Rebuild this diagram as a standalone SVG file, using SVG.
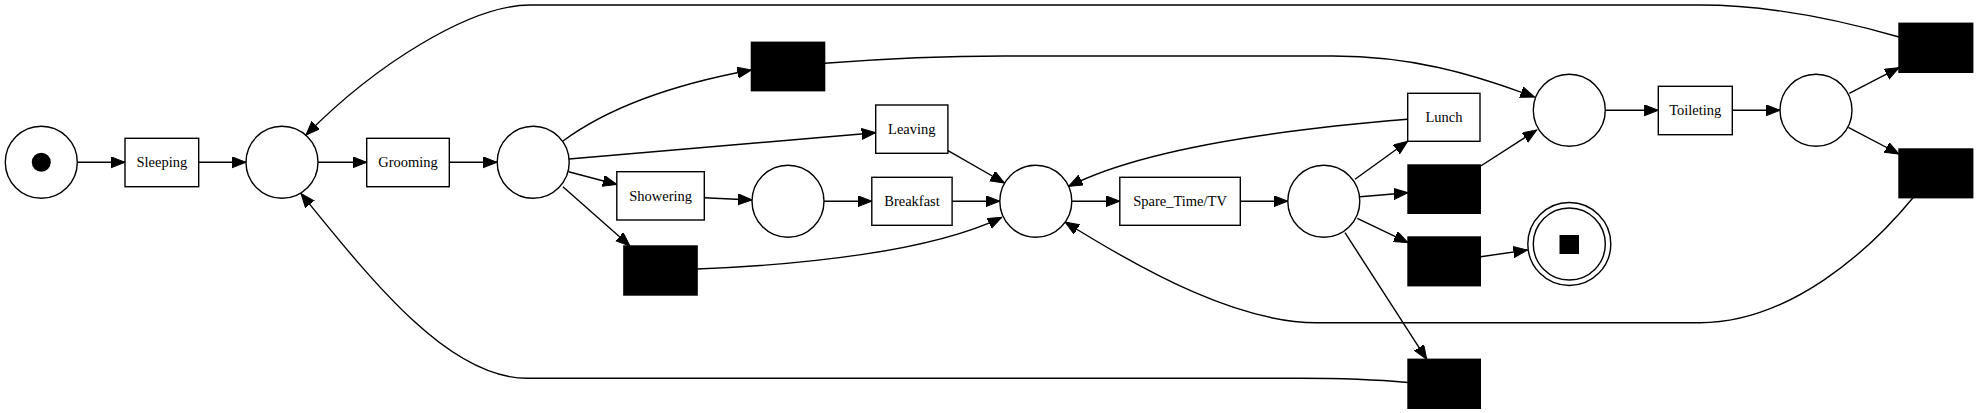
<svg xmlns="http://www.w3.org/2000/svg" width="1977" height="413" viewBox="0 0 1977 413">
<style>
.pl{fill:#fff;stroke:#000;stroke-width:1.4}
.tr{fill:#fff;stroke:#000;stroke-width:1.4}
.tau{fill:#000;stroke:#000;stroke-width:1.4}
.e{fill:none;stroke:#000;stroke-width:1.4;marker-end:url(#ah)}
text{font-family:"Liberation Serif","Times New Roman",serif;font-size:14.5px;text-anchor:middle;fill:#000}
</style>
<defs>
<marker id="ah" markerUnits="userSpaceOnUse" markerWidth="16" markerHeight="12" refX="14" refY="5.5" orient="auto">
<path d="M0,0 L14,5.5 L0,11 z" fill="#000" stroke="#000" stroke-width="1"/>
</marker>
</defs>
<rect width="1977" height="413" fill="#fff"/>
<g id="connectors">
<path class="e" d="M77.3,162.3 L125,162.3"/>
<path class="e" d="M198.7,162.3 L246,162.3"/>
<path class="e" d="M318,162.3 L366.7,162.3"/>
<path class="e" d="M449.3,162.3 L497,162.3"/>
<path class="e" d="M563,141 C605,110 670,85 751.4,70"/>
<path class="e" d="M569,159 L875.7,132.7"/>
<path class="e" d="M568.6,171.7 L616.8,184.5"/>
<path class="e" d="M562.9,186.7 L630,246"/>
<path class="e" d="M704.3,197.7 L752,200"/>
<path class="e" d="M824,201.2 L871.8,201.2"/>
<path class="e" d="M952.1,201.2 L999.8,201.2"/>
<path class="e" d="M948,150.7 L1004.5,183"/>
<path class="e" d="M697,269 C800,265 930,252 1001.7,217.3"/>
<path class="e" d="M1071.8,201.2 L1119.8,201.2"/>
<path class="e" d="M1407.7,119.3 C1300,128 1150,145 1068.5,186.5"/>
<path class="e" d="M1240.3,201.2 L1287.8,201.2"/>
<path class="e" d="M1355,179.3 L1407.7,141.3"/>
<path class="e" d="M1360,196.7 L1408,192.7"/>
<path class="e" d="M1357.3,218.3 L1408,242.7"/>
<path class="e" d="M1345,232.7 L1426.7,359.3"/>
<path class="e" d="M1480.7,166 L1536.7,130"/>
<path class="e" d="M1480.7,256.7 L1527.5,250"/>
<path class="e" d="M824.6,63.3 C880,59 950,56 1004,56 L1333,56 C1410,56 1470,73 1534.5,97"/>
<path class="e" d="M1605.3,110.3 L1658.3,110.3"/>
<path class="e" d="M1732.3,110.3 L1780,110.3"/>
<path class="e" d="M1849.3,93.3 L1899,67.7"/>
<path class="e" d="M1848.3,127.3 L1899,154"/>
<path class="e" d="M1899,37 C1840,20 1770,5 1700,5 L530,5 C470,5 375,65 306,135"/>
<path class="e" d="M1913,197.7 C1870,250 1790,322.7 1700,322.7 L1317,322.7 C1240,322.7 1150,275 1065,222"/>
<path class="e" d="M1408,382.5 C1380,380 1340,378.3 1300,378.3 L527,378.3 C450,378.3 375,285 301,193.5"/>
</g>
<g id="p_start"><circle class="pl" cx="41.3" cy="162.3" r="36"/><circle cx="41.3" cy="162.3" r="9.5" fill="#000"/></g>
<g id="p1"><circle class="pl" cx="282" cy="162.3" r="36"/></g>
<g id="p2"><circle class="pl" cx="533.2" cy="162.3" r="36"/></g>
<g id="p3"><circle class="pl" cx="788" cy="201.2" r="36"/></g>
<g id="p4"><circle class="pl" cx="1035.8" cy="201.2" r="36"/></g>
<g id="p5"><circle class="pl" cx="1323.8" cy="201.2" r="36"/></g>
<g id="p6"><circle class="pl" cx="1569.3" cy="110.3" r="36"/></g>
<g id="p7"><circle class="pl" cx="1816" cy="110.3" r="36"/></g>
<g id="p_end"><circle class="pl" cx="1569.3" cy="244" r="41.5"/><circle class="pl" cx="1569.3" cy="244" r="36"/><rect x="1559.5" y="235" width="19.5" height="19" fill="#000"/></g>
<g id="t_sleeping"><rect class="tr" x="125" y="138.3" width="73.7" height="48.4"/><text x="161.9" y="167.3">Sleeping</text></g>
<g id="t_grooming"><rect class="tr" x="366.7" y="138.3" width="82.6" height="48.4"/><text x="408" y="167.3">Grooming</text></g>
<g id="t_leaving"><rect class="tr" x="875.7" y="105" width="72.2" height="48.3"/><text x="911.8" y="134">Leaving</text></g>
<g id="t_showering"><rect class="tr" x="616.8" y="171.7" width="87.5" height="48.3"/><text x="660.6" y="200.7">Showering</text></g>
<g id="t_breakfast"><rect class="tr" x="871.8" y="177.3" width="80.3" height="48"/><text x="912" y="206.2">Breakfast</text></g>
<g id="t_spare"><rect class="tr" x="1119.8" y="177.3" width="120.5" height="48"/><text x="1180" y="206.2">Spare_Time/TV</text></g>
<g id="t_lunch"><rect class="tr" x="1407.7" y="93.3" width="72.3" height="48"/><text x="1443.9" y="122.2">Lunch</text></g>
<g id="t_toileting"><rect class="tr" x="1658.3" y="86.3" width="74" height="48.4"/><text x="1695.3" y="115.3">Toileting</text></g>
<g id="tau1"><rect class="tau" x="751.4" y="42.3" width="73.2" height="48.4"/></g>
<g id="tau2"><rect class="tau" x="623.9" y="246" width="73.2" height="49"/></g>
<g id="tau3"><rect class="tau" x="1408" y="165" width="72.3" height="48.3"/></g>
<g id="tau4"><rect class="tau" x="1408" y="237" width="72.3" height="48.7"/></g>
<g id="tau5"><rect class="tau" x="1408" y="359.3" width="72.3" height="49"/></g>
<g id="tau6"><rect class="tau" x="1899" y="23.3" width="73.7" height="49"/></g>
<g id="tau7"><rect class="tau" x="1899" y="149" width="73.7" height="48.7"/></g>
</svg>
